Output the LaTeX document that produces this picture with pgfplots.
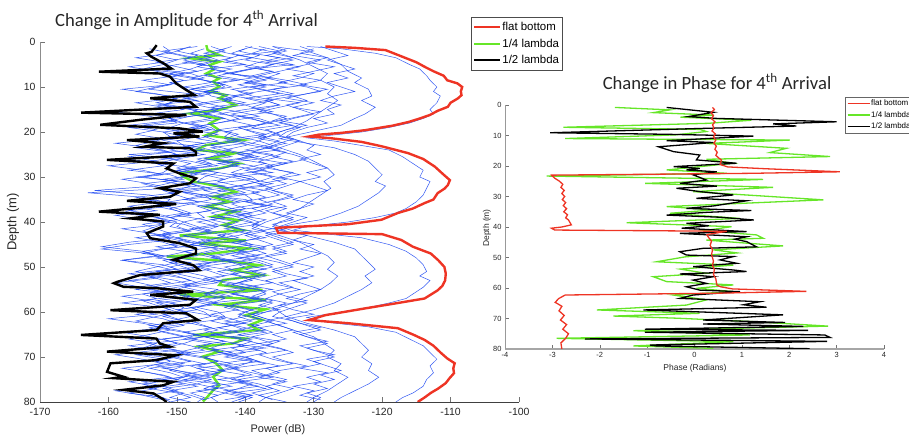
\documentclass[border=0pt]{standalone}
\usepackage{pgfplots}
\pgfplotsset{compat=1.18}
\usepackage{pgfplotstable}
\usepackage{fontspec}
\setmainfont{Liberation Sans}
\newfontfamily\calibri{Carlito}

\definecolor{flatred}{RGB}{238,52,36}
\definecolor{quartgreen}{RGB}{102,230,40}
\definecolor{runblue}{RGB}{30,72,242}

% Individual runs (power in dB against depth in m), first set
\pgfplotstableread{
depth r1 r2 r3 r4 r5 r6 r7 r8 r9 r10
1 -152 -148 -145 -142 -139 -136 -132 -129 -147 -138
2 -151 -150 -143 -144 -141 -134 -130 -127 -152 -135
3 -153 -147 -146 -141 -138 -137 -133 -125 -149 -141
4 -150 -149 -144 -143 -140 -133 -129 -128 -145 -137
5 -152 -146 -147 -140 -136 -136 -131 -126 -150 -133
6 -155 -148 -142 -145 -139 -138 -134 -124 -153 -139
7 -149 -151 -145 -142 -142 -135 -130 -127 -148 -143
8 -151 -147 -148 -139 -138 -137 -132 -125 -146 -136
9 -150 -145 -144 -144 -140 -134 -135 -128 -151 -140
10 -153 -149 -143 -142 -137 -139 -131 -126 -149 -134
11 -156 -148 -146 -146 -141 -136 -129 -124 -144 -138
12 -151 -146 -145 -141 -139 -133 -133 -127 -150 -142
13 -150 -150 -142 -143 -136 -137 -131 -129 -147 -137
14 -152 -152 -147 -140 -140 -135 -134 -126 -153 -135
15 -149 -147 -144 -145 -138 -138 -132 -128 -148 -140
16 -154 -148 -146 -143 -142 -136 -130 -127 -145 -144
17 -151 -145 -143 -141 -139 -134 -133 -130 -151 -138
18 -150 -149 -148 -144 -137 -137 -135 -128 -149 -136
19 -157 -151 -145 -148 -140 -139 -132 -131 -146 -141
20 -152 -148 -144 -142 -143 -136 -134 -133 -152 -139
21 -151 -147 -146 -143 -141 -138 -135 -134 -149 -137
22 -153 -150 -144 -141 -138 -135 -132 -132 -154 -143
23 -156 -149 -148 -145 -140 -137 -134 -130 -148 -139
24 -152 -146 -145 -142 -143 -140 -136 -131 -151 -135
25 -150 -157 -143 -144 -139 -136 -133 -129 -146 -141
26 -157 -151 -147 -146 -141 -138 -131 -132 -150 -138
27 -153 -148 -145 -141 -137 -134 -134 -130 -153 -144
28 -151 -150 -149 -143 -140 -137 -137 -128 -147 -140
29 -152 -147 -144 -147 -142 -139 -133 -131 -150 -136
30 -155 -149 -146 -142 -139 -136 -135 -129 -156 -142
31 -150 -152 -147 -144 -138 -138 -132 -132 -149 -139
32 -153 -148 -143 -141 -141 -141 -134 -130 -147 -137
33 -162 -150 -151 -146 -144 -137 -136 -128 -152 -143
34 -154 -146 -146 -143 -140 -135 -133 -131 -150 -146
35 -151 -149 -145 -149 -139 -138 -135 -133 -155 -140
36 -152 -153 -148 -144 -142 -136 -138 -130 -148 -138
37 -156 -150 -144 -142 -140 -139 -134 -132 -151 -142
38 -158 -148 -147 -145 -143 -137 -136 -134 -149 -139
39 -153 -151 -146 -143 -141 -140 -133 -131 -153 -145
40 -151 -149 -149 -147 -139 -138 -135 -133 -150 -141
41 -153 -150 -147 -144 -142 -139 -136 -135 -151 -143
42 -155 -148 -145 -146 -140 -137 -134 -133 -148 -139
43 -152 -152 -149 -143 -144 -140 -137 -131 -153 -141
44 -151 -149 -146 -145 -141 -138 -135 -133 -150 -146
45 -157 -151 -148 -148 -139 -136 -133 -130 -146 -140
46 -161 -147 -144 -143 -143 -139 -136 -132 -152 -137
47 -154 -150 -147 -146 -141 -137 -134 -129 -155 -142
48 -152 -153 -150 -144 -138 -141 -138 -131 -149 -145
49 -150 -148 -145 -142 -142 -138 -135 -133 -151 -139
50 -153 -151 -147 -147 -140 -136 -133 -130 -147 -143
51 -156 -149 -149 -145 -144 -139 -136 -132 -153 -141
52 -152 -154 -146 -143 -141 -137 -134 -130 -150 -138
53 -157 -150 -144 -146 -139 -140 -137 -133 -148 -144
54 -154 -148 -148 -149 -143 -142 -135 -131 -152 -140
55 -151 -152 -150 -144 -140 -138 -132 -129 -156 -136
56 -155 -150 -145 -146 -142 -137 -135 -132 -150 -142
57 -153 -147 -147 -143 -138 -139 -137 -134 -148 -139
58 -158 -151 -144 -145 -141 -136 -134 -131 -153 -145
59 -152 -149 -148 -147 -143 -138 -136 -133 -151 -141
60 -150 -150 -146 -144 -140 -140 -135 -135 -149 -138
61 -153 -148 -145 -143 -141 -138 -134 -136 -152 -140
62 -156 -151 -148 -145 -139 -136 -137 -133 -149 -143
63 -152 -149 -146 -142 -142 -139 -135 -131 -154 -138
64 -151 -153 -144 -146 -140 -137 -133 -129 -150 -141
65 -154 -150 -147 -144 -144 -141 -136 -132 -147 -145
66 -157 -147 -149 -148 -141 -138 -134 -130 -152 -139
67 -153 -149 -145 -143 -138 -136 -138 -128 -150 -142
68 -155 -152 -147 -145 -142 -139 -135 -131 -155 -137
69 -158 -148 -150 -142 -140 -137 -133 -129 -149 -144
70 -152 -150 -146 -146 -143 -140 -136 -127 -151 -140
71 -151 -153 -144 -144 -139 -138 -134 -130 -148 -138
72 -154 -149 -148 -147 -141 -135 -131 -128 -153 -143
73 -156 -151 -146 -143 -144 -139 -135 -126 -150 -141
74 -152 -148 -149 -145 -140 -137 -137 -129 -147 -139
75 -150 -150 -145 -149 -142 -141 -134 -127 -152 -144
76 -155 -147 -147 -144 -139 -138 -136 -130 -149 -140
77 -153 -152 -144 -146 -141 -136 -133 -128 -154 -137
78 -157 -149 -148 -143 -143 -139 -135 -131 -150 -142
79 -152 -151 -146 -145 -140 -137 -137 -129 -148 -139
80 -151 -148 -147 -144 -142 -138 -134 -130 -151 -141
}\runtable

% Individual runs, second set (sampled between the first set's depths)
\pgfplotstableread{
depth s1 s2 s3 s4 s5 s6 s7 s8
1.5 -149 -146 -143 -140 -137 -134 -130 -154
2.5 -151 -148 -146 -142 -139 -136 -132 -151
3.5 -148 -145 -142 -139 -135 -133 -128 -156
4.5 -153 -149 -145 -143 -138 -137 -131 -152
5.5 -150 -144 -147 -138 -140 -132 -127 -157
6.5 -147 -147 -143 -141 -136 -135 -130 -153
7.5 -152 -150 -146 -144 -139 -138 -133 -150
8.5 -149 -146 -141 -140 -137 -134 -129 -155
9.5 -151 -143 -145 -137 -141 -131 -132 -151
10.5 -154 -148 -148 -142 -138 -136 -128 -158
11.5 -148 -145 -144 -139 -135 -133 -131 -153
12.5 -150 -149 -142 -143 -140 -137 -134 -150
13.5 -153 -146 -146 -140 -137 -132 -130 -156
14.5 -149 -150 -143 -145 -139 -135 -133 -152
15.5 -147 -144 -147 -141 -136 -138 -129 -159
16.5 -152 -148 -144 -138 -141 -134 -132 -154
17.5 -150 -151 -142 -142 -138 -136 -135 -151
18.5 -155 -147 -146 -139 -135 -133 -131 -157
19.5 -151 -145 -148 -144 -140 -137 -134 -153
20.5 -148 -149 -144 -141 -137 -135 -136 -156
21.5 -153 -152 -147 -143 -142 -138 -133 -152
22.5 -150 -146 -143 -140 -139 -134 -135 -159
23.5 -156 -150 -149 -145 -136 -137 -137 -154
24.5 -151 -147 -145 -142 -141 -139 -134 -151
25.5 -149 -153 -142 -139 -138 -135 -136 -157
26.5 -154 -148 -147 -144 -143 -138 -133 -153
27.5 -152 -145 -144 -141 -139 -136 -137 -160
28.5 -157 -150 -150 -146 -137 -140 -135 -155
29.5 -151 -147 -146 -142 -142 -137 -132 -152
30.5 -149 -152 -143 -139 -139 -134 -136 -158
31.5 -155 -148 -148 -145 -136 -138 -134 -154
32.5 -152 -146 -145 -142 -141 -136 -137 -151
33.5 -150 -151 -149 -140 -138 -139 -135 -163
34.5 -156 -149 -146 -144 -143 -137 -133 -155
35.5 -153 -147 -143 -141 -140 -140 -136 -152
36.5 -151 -153 -147 -146 -137 -136 -134 -157
37.5 -157 -150 -145 -143 -142 -138 -137 -153
38.5 -152 -148 -150 -140 -139 -141 -135 -159
39.5 -150 -154 -146 -145 -141 -137 -133 -155
40.5 -155 -149 -144 -142 -138 -139 -136 -152
41.5 -153 -147 -148 -147 -143 -136 -134 -158
42.5 -151 -152 -145 -143 -140 -140 -137 -154
43.5 -156 -150 -150 -141 -137 -138 -135 -151
44.5 -152 -148 -147 -146 -142 -141 -133 -157
45.5 -150 -153 -144 -143 -139 -137 -136 -161
46.5 -155 -149 -149 -140 -141 -139 -134 -155
47.5 -153 -147 -146 -145 -138 -142 -137 -152
48.5 -158 -152 -143 -142 -143 -138 -135 -158
49.5 -152 -150 -148 -147 -140 -136 -133 -154
50.5 -150 -148 -145 -143 -137 -140 -136 -151
51.5 -155 -153 -150 -141 -142 -137 -134 -157
52.5 -153 -149 -147 -146 -139 -139 -131 -153
53.5 -151 -147 -144 -143 -141 -136 -135 -159
54.5 -156 -152 -149 -140 -138 -140 -133 -155
55.5 -152 -150 -146 -145 -143 -137 -136 -152
56.5 -150 -148 -143 -142 -140 -139 -134 -158
57.5 -155 -153 -148 -147 -137 -136 -131 -154
58.5 -153 -149 -145 -143 -142 -138 -135 -151
59.5 -151 -147 -150 -141 -139 -135 -133 -157
60.5 -156 -152 -146 -145 -141 -139 -130 -153
61.5 -152 -150 -143 -142 -138 -137 -134 -160
62.5 -150 -148 -148 -140 -143 -134 -132 -155
63.5 -154 -153 -145 -144 -140 -138 -129 -152
64.5 -152 -149 -149 -141 -137 -136 -133 -158
65.5 -149 -146 -146 -146 -142 -139 -131 -154
66.5 -155 -151 -143 -143 -139 -135 -128 -151
67.5 -153 -148 -147 -140 -141 -137 -132 -157
68.5 -150 -146 -144 -145 -138 -134 -130 -153
69.5 -156 -151 -149 -142 -143 -138 -127 -159
70.5 -152 -149 -145 -139 -140 -136 -131 -155
71.5 -149 -146 -142 -144 -137 -133 -129 -152
72.5 -154 -152 -147 -141 -142 -137 -132 -158
73.5 -151 -148 -144 -146 -139 -135 -128 -154
74.5 -149 -145 -148 -143 -136 -138 -131 -151
75.5 -155 -150 -145 -140 -141 -134 -129 -157
76.5 -152 -147 -142 -145 -138 -137 -133 -153
77.5 -150 -151 -147 -142 -143 -135 -130 -159
78.5 -154 -148 -144 -139 -139 -138 -132 -155
79.5 -151 -146 -146 -143 -141 -136 -129 -152
}\runtableb

\begin{document}
\begin{tikzpicture}[x=1bp,y=1bp]
\path[use as bounding box] (0,0) rectangle (909,438);

%% ---------------- Amplitude ----------------
\begin{axis}[
  at={(40bp,36bp)}, anchor=south west,
  scale only axis, width=479bp, height=360bp,
  xmin=-170, xmax=-100, ymin=0, ymax=80, y dir=reverse,
  axis x line*=bottom, axis y line*=left,
  x axis line style={draw=black!75, line width=0.8bp},
  y axis line style={draw=black!45, line width=0.8bp},
  xtick={-170,-160,...,-100}, ytick={0,10,...,80},
  tick align=inside, major tick length=5bp,
  tick style={draw=black!55, line width=0.6bp},
  /pgf/number format/assume math mode=true,
  tick label style={font=\fontsize{10.5}{12}\selectfont, text=black!85},
  xticklabel style={yshift=-2.5bp},
  yticklabel style={xshift=-1bp},
  legend cell align=left,
  legend style={at={(0.8998,1.069)}, anchor=north west, draw=black!70,
    line width=0.8bp, font=\fontsize{11.5}{12}\selectfont,
    inner xsep=2bp, inner ysep=4bp, row sep=4.5bp,
    nodes={inner sep=1bp}},
  legend image code/.code={\draw[#1] (0bp,0bp) -- (26bp,0bp);},
]
\addlegendimage{flatred, line width=2bp}
\addlegendentry{flat bottom}
\addlegendimage{quartgreen, line width=2bp}
\addlegendentry{1/4 lambda}
\addlegendimage{black, line width=2bp}
\addlegendentry{1/2 lambda}

% 1/4 lambda
\addplot[quartgreen, line width=2.4bp, forget plot] coordinates {
(-145.7,0.7) (-145.5,1.8) (-143.8,2.9) (-148.1,3.6) (-143.8,4.4) (-145.2,5.1)
(-144.7,6.2) (-145.7,7.0) (-143.8,8.1) (-144.7,8.8) (-143.8,9.9) (-145.2,11.0)
(-142.8,11.8) (-143.8,12.5) (-141.4,14.0) (-143.8,15.1) (-148.1,15.9) (-143.8,17.0)
(-145.2,18.1) (-143.8,19.6) (-145.7,20.7) (-140.4,21.8) (-145.7,22.9) (-147.2,24.0)
(-141.4,24.7) (-145.2,25.9) (-140.9,27.0) (-143.8,28.1) (-149.6,29.2) (-149.1,29.9)
(-147.6,31.0) (-143.8,32.1) (-141.4,33.3) (-144.7,34.4) (-142.3,35.5) (-145.7,36.6)
(-141.4,37.7) (-144.7,38.8) (-140.9,39.6) (-143.3,40.7) (-140.4,41.8) (-149.6,43.0)
(-139.9,44.1) (-146.7,44.8) (-139.4,45.9) (-144.7,47.0) (-151.5,47.7) (-141.8,48.8)
(-138.0,49.6) (-141.8,50.7) (-137.5,51.8) (-143.3,52.9) (-143.8,54.0) (-137.5,55.1)
(-149.6,56.2) (-137.0,57.3) (-143.8,58.4) (-137.0,59.4) (-139.9,60.7) (-137.5,61.8)
(-139.4,62.9) (-138.0,64.0) (-147.6,65.1) (-139.9,65.9) (-141.8,67.0) (-146.7,67.7)
(-143.8,68.8) (-146.2,69.9) (-144.3,71.4) (-143.3,72.9) (-144.7,74.4) (-143.8,76.3)
(-144.7,77.4) (-145.5,78.8) (-146.2,79.9)
};

% single runs
\pgfplotsinvokeforeach{r1,r2,r3,r4,r5,r6,r7,r8,r9,r10}{
  \addplot[runblue, line width=0.5bp, opacity=0.9, forget plot] table[x=#1, y=depth]{\runtable};
}
\pgfplotsinvokeforeach{s1,s2,s3,s4,s5,s6,s7,s8}{
  \addplot[runblue, line width=0.5bp, opacity=0.9, forget plot] table[x=#1, y=depth]{\runtableb};
}
\addplot[runblue, line width=0.5bp, opacity=0.9, forget plot] coordinates {
(-131,1) (-126,1.5) (-121,2.5) (-118,3.5) (-116,5) (-114.5,6) (-113.5,7.5) (-113,8.5)
(-112,10) (-112.5,11) (-111.5,12) (-112,13.5) (-113,15) (-112.5,16) (-114,17) (-116,18)
(-119,19) (-123,20) (-128,20.8) (-131,21.3) (-127,22) (-123,23) (-119,24) (-117,25.5)
(-115.5,27) (-114,28.5) (-114.5,30) (-113,31) (-113.5,32.5) (-114,34) (-115,35.5)
(-116.5,37) (-118,38) (-121,39) (-125,40) (-131,41) (-133,41.8) (-129,42.5) (-123,43.5)
(-119,45) (-116.5,46.5) (-115,48) (-114,49.5) (-113.5,51) (-114.5,52) (-113,53)
(-114,54.5) (-115,55.5) (-116.5,57) (-119,58) (-122,59) (-126,60) (-131,61.2) (-128,62.3)
(-122,63.3) (-118,64.5) (-116,66) (-114,67.5) (-113,69) (-112,70.5) (-113,72) (-112.5,73.5)
(-113.5,75) (-114,76.5) (-115.5,78) (-117,79) (-118,80)
};
\addplot[runblue, line width=0.5bp, opacity=0.9, forget plot] coordinates {
(-136,1) (-131,2) (-128,3.5) (-126,5) (-125,6.5) (-123,8) (-124,9) (-122,10.5) (-121.5,12)
(-123,13) (-121,14.5) (-122.5,16) (-124,17) (-126,18.5) (-129,19.5) (-132,20.5) (-135,21.5)
(-131,22.5) (-127,23.5) (-124,25) (-122,26.5) (-121,28) (-120,29.5) (-121,31) (-119.5,32)
(-120.5,33.5) (-122,35) (-123.5,36.5) (-126,38) (-129,39.5) (-133,40.5) (-136,41.5)
(-131,43) (-127,44.5) (-124,46) (-123,47.5) (-122,49) (-121,50.5) (-122.5,52) (-121.5,53.5)
(-123,55) (-125,56.5) (-127,58) (-130,59.5) (-134,61) (-131,62.5) (-127,64) (-124,65.5)
(-123,67) (-122,68.5) (-123,70) (-121.5,71.5) (-122,73) (-120.5,74.5) (-122,76) (-124,77.5)
(-126,79) (-127,80)
};
\addplot[runblue, line width=0.5bp, opacity=0.9, forget plot] coordinates {
(-140,1) (-135,2.5) (-132,4) (-130,5.5) (-128,7) (-129,8.5) (-127,10) (-128,11.5) (-126.5,13)
(-128,14.5) (-129.5,16) (-131,17.5) (-133,19) (-136,20.5) (-138,22) (-135,23.5) (-132,25)
(-130,26.5) (-128,28) (-127,29.5) (-128.5,31) (-127.5,32.5) (-129,34) (-130.5,35.5) (-132,37)
(-134,38.5) (-137,40) (-139,41.5) (-135,43) (-132,44.5) (-130,46) (-128,47.5) (-127,49)
(-128,50.5) (-126.5,52) (-127.5,53.5) (-129,55) (-131,56.5) (-133,58) (-136,59.5) (-139,61)
(-136,62.5) (-133,64) (-130,65.5) (-128.5,67) (-127,68.5) (-128,70) (-126,71.5) (-127,73)
(-125,74.5) (-126.5,76) (-128,77.5) (-130,79) (-131,80)
};

% 1/2 lambda
\addplot[black, line width=2.4bp, forget plot] coordinates {
(-152.95,0.7) (-153.7,2.2) (-154.4,2.5) (-153.7,3.3) (-152.0,4.7) (-150.8,5.9) (-161.4,6.6)
(-152.5,7.0) (-151.0,7.7) (-150.1,9.2) (-148.6,10.7) (-147.4,11.8) (-153.9,12.5)
(-148.1,13.3) (-147.2,14.4) (-164.0,15.7) (-148.6,16.2) (-155.4,17.3) (-161.2,18.4)
(-149.6,19.2) (-146.2,19.9) (-150.5,20.3) (-146.7,21.0) (-157.3,21.8) (-152.0,22.5)
(-154.9,23.3) (-148.1,23.6) (-147.2,24.4) (-147.2,25.1) (-160.2,26.2) (-150.5,27.0)
(-151.5,28.1) (-149.6,29.2) (-147.2,30.3) (-148.1,31.4) (-152.5,32.5) (-149.6,33.3)
(-151.0,34.4) (-157.3,35.3) (-150.1,36.0) (-154.4,36.7) (-161.4,37.7) (-152.5,38.4)
(-156.8,39.2) (-152.0,39.9) (-152.0,41.0) (-154.4,42.5) (-153.9,43.6) (-149.6,44.7)
(-147.2,45.9) (-147.2,47.0) (-150.5,48.4) (-147.6,49.6) (-146.7,50.7) (-155.4,51.8)
(-158.7,53.3) (-159.2,53.6) (-157.8,54.4) (-153.0,54.7) (-147.6,55.5) (-153.9,56.2)
(-147.2,57.3) (-148.1,58.4) (-159.7,59.6) (-148.6,60.3) (-146.9,61.8) (-152.0,62.5)
(-152.95,64.0) (-164.0,65.1) (-153.0,65.9) (-152.5,67.0) (-151.0,67.7) (-160.2,68.8)
(-150.1,69.6) (-153.0,70.7) (-159.7,71.4) (-160.2,73.3) (-157.8,74.4) (-159.2,74.7)
(-150.5,75.5) (-152.0,76.3) (-157.8,77.3) (-153.4,78.1) (-152.0,79.4) (-151.5,80.0)
};

% flat bottom
\addplot[flatred, line width=2.4bp, forget plot] coordinates {
(-128.3,1.0) (-124,1.3) (-119.5,1.8) (-117.5,3) (-115,4.5) (-113.8,5.5) (-112.5,6.5)
(-111,7.5) (-110.5,8.5) (-109,9.2) (-108.3,10) (-108.5,11) (-108.4,11.8) (-108.9,12.5)
(-110,13.5) (-110.4,14.4) (-111.9,15.3) (-113,16.2) (-114.5,17.0) (-116.2,17.8)
(-118.5,18.6) (-122.5,19.6) (-126,20.2) (-129.3,20.6) (-130.7,21.0) (-127.4,21.4)
(-123,22.2) (-120,23.2) (-116.2,24.7) (-114,26) (-112.3,27.7) (-111,29.5) (-110.1,30.7)
(-110.4,31.8) (-110.9,32.6) (-111.9,33.6) (-112.5,35) (-113.8,35.8) (-115.5,37)
(-117.7,38) (-120.1,39.5) (-125,40.5) (-135.5,41.3) (-135.2,42.4) (-120,42.7)
(-117.2,44) (-115.5,45.5) (-112.9,47) (-111.8,48.5) (-110.9,50) (-110.7,51.5)
(-110.8,53) (-111.2,54.2) (-111.9,55.2) (-113.8,57) (-117.7,58) (-122.5,59.2)
(-128.3,60.7) (-130.7,61.8) (-124.9,62.5) (-117.7,63.6) (-115.5,65) (-113.8,66.2)
(-112.5,67.5) (-111.4,69.1) (-110.5,70.3) (-109.4,71.4) (-109.6,72.5) (-109.5,73.6)
(-110.2,74.8) (-110.7,75.8) (-111.8,77) (-112.9,78) (-113.8,79) (-114.8,80)
};
\end{axis}

%% ---------------- Phase ----------------
\begin{axis}[
  at={(505bp,89bp)}, anchor=south west,
  scale only axis, width=379bp, height=244bp,
  xmin=-4, xmax=4, ymin=0, ymax=80, y dir=reverse,
  axis x line*=bottom, axis y line*=left,
  x axis line style={draw=black!35, line width=1.5bp},
  y axis line style={draw=black!40, line width=0.6bp},
  xtick={-4,-3,...,4}, ytick={0,10,...,80},
  tick align=inside, major tick length=3.5bp,
  tick style={draw=black!55, line width=0.5bp},
  /pgf/number format/assume math mode=true,
  tick label style={font=\fontsize{7.5}{9}\selectfont, text=black!85},
  legend cell align=left,
  legend style={at={(0.897,1.033)}, anchor=north west, draw=black!60,
    line width=0.6bp, font=\fontsize{8}{9}\selectfont,
    inner xsep=1.5bp, inner ysep=2bp, row sep=2.5bp,
    nodes={inner sep=0.8bp}},
  legend image code/.code={\draw[#1] (0bp,0bp) -- (22bp,0bp);},
]
\addlegendimage{flatred, line width=1.6bp}
\addlegendentry{flat bottom}
\addlegendimage{quartgreen, line width=1.6bp}
\addlegendentry{1/4 lambda}
\addlegendimage{black, line width=1.6bp}
\addlegendentry{1/2 lambda}

% 1/4 lambda
\addplot[quartgreen, line width=1.3bp, forget plot] coordinates {
(-1.68,0.8) (-0.52,1.6) (-0.87,2.5) (0.40,3.3) (-0.30,4.0) (1.20,5.0) (0.30,6.0)
(-2.77,7.3) (0.11,8.0) (0.25,8.7) (-0.40,9.8) (-2.73,11.0) (2.01,11.5) (0.25,12.6)
(1.94,14.2) (1.59,15.6) (2.86,16.9) (0.25,17.8) (0.82,19.1) (-0.59,21.3) (0.68,22.4)
(-3.12,23.3) (1.45,24.4) (-1.04,25.7) (1.66,27.0) (-0.03,28.4) (2.72,31.1) (-0.59,33.3)
(0.40,34.4) (-0.52,35.5) (0.96,37.2) (-1.43,38.6) (0.78,39.9) (0.20,41.2) (1.31,42.6)
(1.45,43.7) (0.25,44.3) (1.87,46.2) (0.40,47.5) (0.90,48.5) (-0.20,49.8) (-0.80,51.4)
(0.82,52.5) (-0.30,53.8) (0.25,55.2) (-0.87,56.3) (-0.59,57.9) (0.82,59.0) (0.04,60.1)
(0.82,61.2) (-0.45,62.3) (0.25,63.9) (-0.17,65.6) (-2.06,67.2) (0.11,68.3) (-1.71,69.2)
(-0.38,69.9) (1.20,71.0) (2.82,72.5) (-1.29,74.0) (1.17,75.4) (-2.91,76.5) (0.82,77.6)
(-1.29,79.0) (0.40,79.8)
};
% 1/2 lambda
\addplot[black, line width=1.3bp, forget plot] coordinates {
(-0.59,0.8) (0.40,2.4) (-0.13,3.8) (0.47,4.4) (3.00,5.5) (1.66,6.2) (2.15,6.9) (0.11,7.7)
(-3.05,9.1) (-0.59,9.6) (1.24,10.2) (-0.59,11.7) (0.40,12.3) (-0.76,13.7) (-0.44,15.3)
(0.11,16.4) (0.04,18.0) (0.89,19.1) (-0.44,20.2) (0.11,20.8) (-0.17,21.3) (0.47,21.9)
(-0.03,22.9) (0.25,24.6) (-0.31,25.7) (0.47,26.6) (-0.38,27.3) (0.11,28.4) (0.82,29.5)
(0.04,30.6) (1.10,31.4) (0.40,33.1) (-0.17,33.9) (1.20,34.6) (0.25,35.2) (-0.59,36.1)
(0.54,36.8) (1.25,37.7) (-0.17,38.8) (0.30,39.6) (-0.27,40.4) (1.10,41.5) (-0.31,42.1)
(1.10,43.2) (0.85,44.0) (1.10,44.8) (1.31,46.5) (0.18,47.0) (-0.31,48.1) (-0.17,49.2)
(0.82,49.7) (0.54,50.8) (0.89,51.9) (-0.03,53.0) (0.82,54.1) (1.10,54.6) (-0.31,55.4)
(0.40,56.3) (-0.03,57.4) (0.25,58.5) (-0.17,59.6) (0.11,60.7) (0.96,61.2) (-0.03,62.3)
(-0.31,63.4) (1.38,64.5) (1.03,65.5) (1.52,66.3) (-1.08,67.2) (1.87,68.8) (0.18,70.5)
(1.91,71.3) (0.18,71.8) (2.30,72.6) (-1.05,73.5) (2.40,73.9) (-1.05,74.5) (2.75,75.4)
(2.86,76.2) (-2.31,76.7) (2.80,77.5) (-0.94,78.7) (-0.80,79.0) (2.43,79.9)
};
% flat bottom
\addplot[flatred, line width=1.3bp, forget plot] coordinates {
(0.38,0.8) (0.42,1.5) (0.35,2.5) (0.40,3.5) (0.36,4.5) (0.43,5.5) (0.38,6.5) (0.41,7.5)
(0.37,8.5) (0.44,9.5) (0.40,10.5) (0.45,11.5) (0.41,12.5) (0.46,13.5) (0.43,14.5)
(0.48,15.5) (0.45,16.5) (0.52,17.5) (0.57,18) (0.54,19.5) (0.70,20.3) (1.50,20.9)
(3.07,21.9) (1.20,22.4) (-3.02,23.0) (-2.95,24.0) (-2.85,25) (-2.78,26) (-2.82,27)
(-2.75,28) (-2.80,29) (-2.74,30) (-2.79,31) (-2.72,32) (-2.77,33) (-2.70,34) (-2.76,35)
(-2.68,36) (-2.72,37) (-2.66,37.7) (-2.60,39.3) (-2.80,40) (-3.02,40.4) (-2.95,41.0)
(0.68,41.4) (0.26,42.5) (0.30,43.5) (0.36,44.6) (0.33,46) (0.38,47.5) (0.36,49)
(0.40,51.2) (0.38,52.5) (0.42,54) (0.40,55.5) (0.45,57) (0.47,59) (0.55,59.6) (0.80,60.3)
(2.36,61.1) (0.50,61.7) (-2.73,62.3) (-2.87,63.5) (-2.94,64.7) (-2.80,66) (-2.86,67.5)
(-2.75,69) (-2.83,70.5) (-2.70,72) (-2.78,73.5) (-2.66,75) (-2.72,76.5) (-2.82,78)
(-2.80,80)
};
\end{axis}

%% titles and axis labels
\node[font=\calibri\fontsize{18.7}{22}\selectfont, text=black!85] at (186.5,418)
  {Change in Amplitude for 4\textsuperscript{th} Arrival};
\node[font=\calibri\fontsize{18.7}{22}\selectfont, text=black!85] at (717,355)
  {Change in Phase for 4\textsuperscript{th} Arrival};
\node[font=\fontsize{11}{13}\selectfont, text=black!85] at (278,8) {Power (dB)};
\node[font=\fontsize{13}{15}\selectfont, text=black!85, rotate=90] at (13,216) {Depth (m)};
\node[font=\fontsize{8.5}{10}\selectfont, text=black!85] at (695,70) {Phase (Radians)};
\node[font=\fontsize{8.5}{10}\selectfont, text=black!85, rotate=90] at (487,210) {Depth (m)};
\end{tikzpicture}
\end{document}
